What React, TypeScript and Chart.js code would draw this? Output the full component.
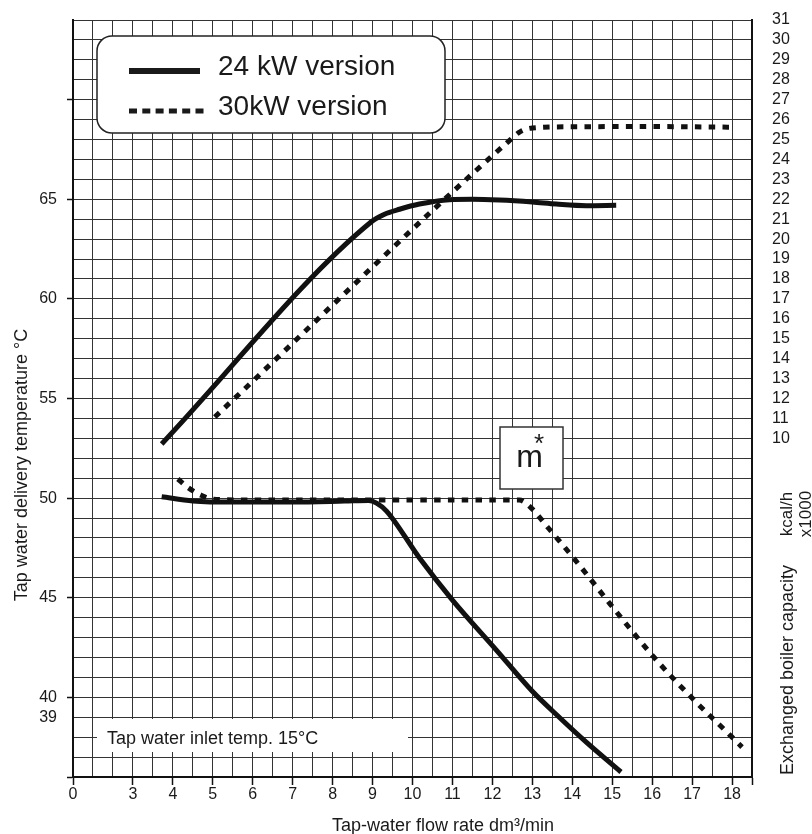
import React, { useEffect, useRef } from 'react';
import { Chart, registerables } from 'chart.js';

Chart.register(...registerables);

const FONT = "'Liberation Sans', Arial, Helvetica, sans-serif";
const INK = '#1a1a1a';

// Tap water delivery temperature (°C, left axis) vs flow rate (dm³/min)
const flow24Temp = [3.72, 4.5, 5.5, 7.0, 8.3, 8.9, 9.1, 9.35, 10.175, 11.0, 12.1, 13.0, 13.7, 14.35, 15.22];
const temp24 = [50.07, 49.86, 49.8, 49.8, 49.85, 49.88, 49.75, 49.35, 46.99, 44.88, 42.37, 40.3, 38.95, 37.75, 36.25];
const flow30Temp = [4.125, 4.4, 4.7, 5.0, 6.0, 8.0, 10.0, 12.0, 12.675, 12.95, 13.4, 14.075, 14.95, 16.05, 17.0, 18.0, 18.25];
const temp30 = [50.96, 50.5, 50.15, 49.95, 49.9, 49.9, 49.9, 49.9, 49.9, 49.55, 48.5, 46.89, 44.68, 42.0, 39.96, 38.0, 37.5];

// Exchanged boiler capacity (kcal/h x1000, right axis) vs flow rate
const flow24Cap = [3.72, 8.97, 9.3, 9.675, 10.175, 10.925, 11.5, 12.175, 13.0, 13.6, 14.35, 15.1];
const cap24 = [9.72, 20.87, 21.25, 21.5, 21.76, 21.98, 22.0, 21.96, 21.86, 21.76, 21.68, 21.7];
const flow30Cap = [5.05, 12.4, 12.7, 13.0, 14.0, 16.0, 17.98];
const cap30 = [11.07, 24.9, 25.4, 25.58, 25.64, 25.65, 25.62];

// Axis ranges and tick labels
const xOrigin = 1.5; // broken axis: labelled "0"
const xMax = 18.5;
const xTickLabels = [3, 4, 5, 6, 7, 8, 9, 10, 11, 12, 13, 14, 15, 16, 17, 18];
const yTempMin = 36;
const yTempMax = 74;
const yTempLabels = [39, 40, 45, 50, 55, 60, 65];
const yTempTickMarks = [36, 40, 45, 50, 55, 60, 65, 70];
const yCapMin = -7;
const yCapMax = 31;
const yCapLabels = [10, 11, 12, 13, 14, 15, 16, 17, 18, 19, 20, 21, 22, 23, 24, 25, 26, 27, 28, 29, 30, 31];

const seriesNames = ['24 kW version', '30kW version'];
const DOTS = [6.5, 7.3];

const zip = (xs: number[], ys: number[]) => xs.map((x, i) => ({ x, y: ys[i] }));

const overlayPlugin = {
  id: 'overlay',
  afterDraw(chart: any) {
    const ctx = chart.ctx as CanvasRenderingContext2D;
    ctx.save();
    ctx.fillStyle = INK;
    ctx.strokeStyle = INK;

    // Legend box
    ctx.beginPath();
    (ctx as any).roundRect(97, 36, 348, 97, 15);
    ctx.fillStyle = '#fff';
    ctx.fill();
    ctx.lineWidth = 1.5;
    ctx.strokeStyle = '#222';
    ctx.stroke();

    ctx.lineCap = 'butt';
    ctx.strokeStyle = INK;
    ctx.lineWidth = 6;
    ctx.setLineDash([]);
    ctx.beginPath();
    ctx.moveTo(129, 71);
    ctx.lineTo(200, 71);
    ctx.stroke();
    ctx.lineWidth = 5;
    ctx.setLineDash([8, 5.3]);
    ctx.beginPath();
    ctx.moveTo(129, 111);
    ctx.lineTo(206, 111);
    ctx.stroke();
    ctx.setLineDash([]);

    ctx.fillStyle = INK;
    ctx.font = `28px ${FONT}`;
    ctx.textAlign = 'left';
    ctx.textBaseline = 'alphabetic';
    ctx.fillText(seriesNames[0], 218, 75);
    ctx.fillText(seriesNames[1], 218, 115);

    // m* box
    ctx.fillStyle = '#fff';
    ctx.fillRect(500, 427, 63, 62);
    ctx.lineWidth = 1.5;
    ctx.strokeStyle = '#333';
    ctx.strokeRect(500, 427, 63, 62);
    ctx.fillStyle = INK;
    ctx.font = `32px ${FONT}`;
    ctx.textAlign = 'center';
    ctx.fillText('m', 529.5, 467);
    ctx.font = `26px ${FONT}`;
    ctx.fillText('*', 539, 452);

    // Inlet temperature label
    ctx.fillStyle = '#fff';
    ctx.fillRect(97, 719, 311, 33);
    ctx.fillStyle = INK;
    ctx.font = `18px ${FONT}`;
    ctx.textAlign = 'left';
    ctx.fillText('Tap water inlet temp. 15°C', 107, 743.5);

    // X axis title
    ctx.textAlign = 'center';
    ctx.fillText('Tap-water flow rate dm³/min', 443, 831);

    // Rotated titles
    const vText = (t: string, x: number, y: number, size: number) => {
      ctx.save();
      ctx.translate(x, y);
      ctx.rotate(-Math.PI / 2);
      ctx.font = `${size}px ${FONT}`;
      ctx.textAlign = 'center';
      ctx.textBaseline = 'middle';
      ctx.fillText(t, 0, 0);
      ctx.restore();
    };
    vText('Tap water delivery temperature °C', 22, 465, 18);
    vText('Exchanged boiler capacity', 788, 670, 18);
    vText('kcal/h', 787, 514, 17);
    vText('x1000', 806, 514, 17);

    ctx.restore();
  },
};

export default function App() {
  const ref = useRef<HTMLCanvasElement | null>(null);

  useEffect(() => {
    if (!ref.current) return;
    Chart.defaults.font.family = FONT;
    Chart.defaults.color = INK;

    const common = {
      borderColor: '#111',
      borderWidth: 5,
      pointRadius: 0,
      fill: false,
      cubicInterpolationMode: 'monotone' as const,
      borderCapStyle: 'butt' as const,
    };

    const chart = new Chart(ref.current, {
      type: 'line',
      data: {
        datasets: [
          { ...common, label: seriesNames[0], data: zip(flow24Cap, cap24), yAxisID: 'y2' },
          { ...common, label: seriesNames[1], data: zip(flow30Cap, cap30), yAxisID: 'y2', borderDash: DOTS },
          { ...common, label: seriesNames[0], data: zip(flow24Temp, temp24), yAxisID: 'y' },
          { ...common, label: seriesNames[1], data: zip(flow30Temp, temp30), yAxisID: 'y', borderDash: DOTS },
        ],
      },
      options: {
        animation: false,
        responsive: false,
        layout: { padding: { top: 20, left: 0, right: 0, bottom: 0 } },
        plugins: { legend: { display: false }, tooltip: { enabled: false } },
        scales: {
          x: {
            type: 'linear',
            position: 'bottom',
            min: xOrigin,
            max: xMax,
            afterFit: (s: any) => {
              s.height = 57;
            },
            ticks: {
              stepSize: 0.5,
              autoSkip: false,
              maxRotation: 0,
              padding: 0,
              font: { size: 16 },
              color: INK,
              callback: (v: any) => {
                const n = Number(v);
                if (Math.abs(n - xOrigin) < 1e-6) return '0';
                return xTickLabels.includes(n) ? String(n) : '';
              },
            },
            grid: {
              color: '#333',
              lineWidth: 1,
              tickLength: 8,
              tickWidth: 1.5,
              tickColor: (c: any) => {
                const n = c.tick ? c.tick.value : NaN;
                return Math.abs(n - xOrigin) < 1e-6 || xTickLabels.includes(n) || Math.abs(n - xMax) < 1e-6
                  ? '#111'
                  : 'rgba(0,0,0,0)';
              },
            },
            border: { color: '#111', width: 2 },
          },
          y: {
            position: 'left',
            min: yTempMin,
            max: yTempMax,
            afterFit: (s: any) => {
              s.width = 73;
            },
            ticks: {
              stepSize: 1,
              autoSkip: false,
              padding: 10,
              font: { size: 16 },
              color: INK,
              callback: (v: any) => (yTempLabels.includes(Number(v)) ? String(v) : ''),
            },
            grid: {
              color: '#333',
              lineWidth: 1,
              tickLength: 6,
              tickWidth: 1.5,
              tickColor: (c: any) =>
                c.tick && yTempTickMarks.includes(c.tick.value) ? '#111' : 'rgba(0,0,0,0)',
            },
            border: { color: '#111', width: 2 },
          },
          y2: {
            position: 'right',
            min: yCapMin,
            max: yCapMax,
            afterFit: (s: any) => {
              s.width = 60;
            },
            ticks: {
              stepSize: 1,
              autoSkip: false,
              padding: 0,
              font: { size: 16 },
              color: INK,
              callback: (v: any) => (yCapLabels.includes(Number(v)) ? String(v) : ''),
            },
            grid: {
              drawOnChartArea: false,
              drawTicks: true,
              tickLength: 20,
              tickColor: 'rgba(0,0,0,0)',
            },
            border: { color: '#111', width: 2 },
          },
        },
      },
      plugins: [overlayPlugin],
    } as any);

    return () => chart.destroy();
  }, []);

  return (
    <div style={{ position: 'fixed', left: 0, top: 0, width: 812, height: 834, background: '#fff' }}>
      <canvas ref={ref} width={812} height={834} style={{ display: 'block' }} />
    </div>
  );
}
